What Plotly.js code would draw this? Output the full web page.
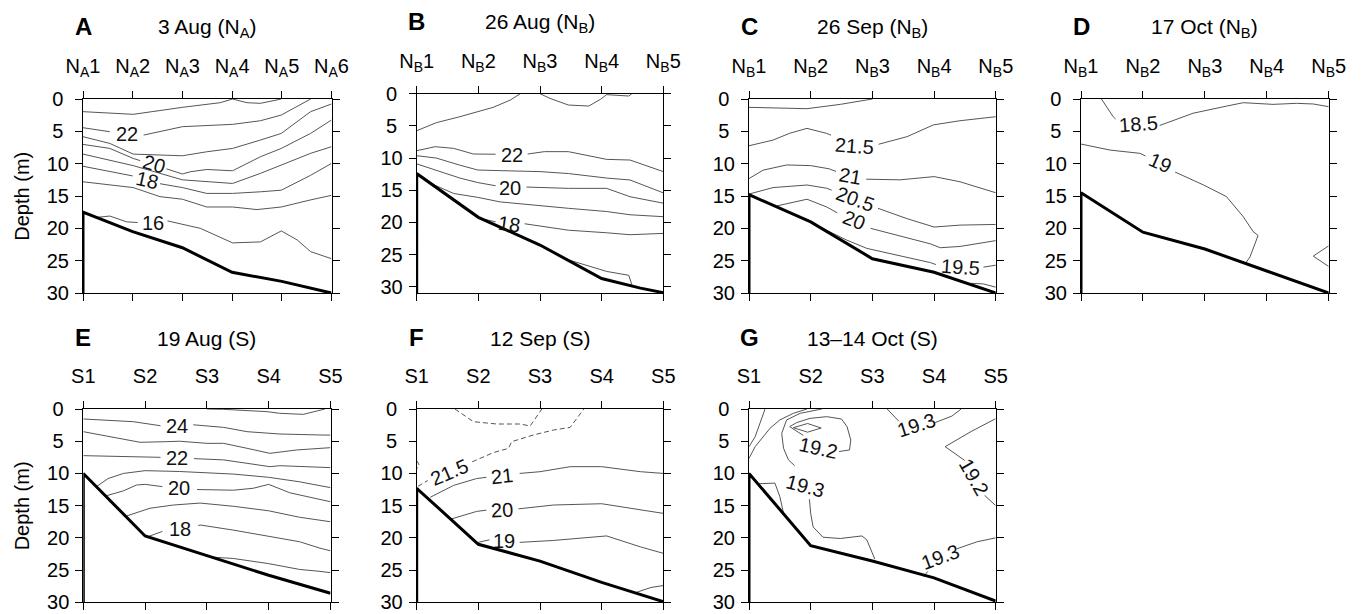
<!DOCTYPE html>
<html>
<head>
<meta charset="utf-8">
<script src="https://cdn.plot.ly/plotly-3.0.1.min.js"></script>
<style>html,body{margin:0;padding:0;background:#fff}#chart{width:1362px;height:614px}</style>
</head>
<body>
<div id="chart"></div>
<script>
// ---------------- DATA ----------------
// x = station index along transect, y = depth (m)
const A_stations = ['N<sub>A</sub>1','N<sub>A</sub>2','N<sub>A</sub>3','N<sub>A</sub>4','N<sub>A</sub>5','N<sub>A</sub>6'];
const B_stations = ['N<sub>B</sub>1','N<sub>B</sub>2','N<sub>B</sub>3','N<sub>B</sub>4','N<sub>B</sub>5'];
const S_stations = ['S1','S2','S3','S4','S5'];
const depthTicks = [0,5,10,15,20,25,30];
const depthTickText = ['0\u2008','5\u2008','10','15','20','25','30'];

const titles = ['3 Aug (N<sub>A</sub>)','26 Aug (N<sub>B</sub>)','26 Sep (N<sub>B</sub>)','17 Oct (N<sub>B</sub>)','19 Aug (S)','12 Sep (S)','13\u201314 Oct (S)'];
const letters = ['A','B','C','D','E','F','G'];

// bathymetry (thick line)
const A_bottom = [[1,30],[1,17.5],[2,20.5],[3,23],[4,26.8],[5,28.2],[6,30]];
const B_bottom = [[1,31],[1,12.4],[2,19.2],[3,23.5],[4,28.7],[4.63,30.2],[5,30.9]];
const C_bottom = [[1,30],[1,14.8],[2,19.0],[3,24.7],[4,26.8],[5,30]];
const D_bottom = [[1,30],[1,14.5],[2,20.6],[3,23.2],[4,26.6],[5,30]];
const E_bottom = [[1,30],[1,10],[2,19.7],[3,22.7],[4,25.8],[5,28.6]];
const F_bottom = [[1,30],[1,12.3],[2,21.0],[3,23.6],[4,26.9],[5,29.9]];
const G_bottom = [[1,30],[1,10],[2,21.2],[3,23.6],[4,26.2],[5,29.8]];

// isotherms (null = gap where a label sits)
const A_iso23 = [[1,1.96],[2.01,2.37],[3.0,1.29],[3.76,0.57],[4.01,0],[4.3,0.57],[4.57,0.67],[4.99,0]];
const A_iso22 = [[1,4.44],[1.54,5.06],null,[2.22,5.58],[3.0,4.28],[4.01,3.92],[4.57,3.36],[4.99,2.48],[5.58,0]];
const A_iso21 = [[1,5.83],[1.54,6.87],[2.01,8.52],[3.0,8.78],[3.49,8.16],[4.01,7.64],[4.57,6.35],[4.99,5.32],[5.58,1.96],[6.0,0.77]];
const A_iso20 = [[1,7.02],[1.54,7.64],[2.01,9.19],[2.15,9.53],null,[2.68,10.8],[3.0,11.6],[3.16,11.25],[3.49,10.9],[4.01,11.1],[4.57,8.93],[4.99,7.64],[5.58,5.32],[6.0,3.25]];
const A_iso19 = [[1,8.52],[1.54,9.45],[2.01,10.3],[3.0,12.5],[3.49,12.8],[4.01,13.06],[4.57,11.5],[4.99,10.2],[5.58,8.4],[6.0,7.38]];
const A_iso18 = [[1,10.4],[1.54,11.25],[2.0,11.9],null,[2.55,13.1],[3.0,13.7],[3.49,14.6],[4.01,14.6],[4.57,14.35],[4.99,14.1],[5.58,11.8],[6.0,9.96]];
const A_iso17 = [[1,12.8],[2.01,13.7],[2.55,15.1],[3.0,15.5],[3.49,16.7],[4.01,16.7],[4.5,17.1],[4.99,16.7],[5.58,15.6],[6.0,14.9]];
const A_iso16 = [[1.28,18.3],[1.54,18.1],[1.88,19.0],[2.1,19.1],null,[2.7,18.85],[3.36,20.0],[4.01,22.25],[4.57,22.1],[4.99,20.4],[5.31,21.8],[5.58,23.6],[6.0,24.7]];
const A_labels = [['22',1.88,5.45],['20',2.42,10.1],['18',2.28,12.6],['16',2.40,19.1]];
const A_labelAngle = [0,17,13,0];

const B_isoTop = [[1,5.75],[1.32,4.5],[1.70,3.57],[1.99,2.85],[2.24,2.12],[2.52,0.98],[2.68,0]];
const B_isoTop2 = [[3.0,0],[3.16,0.72],[3.46,1.76],[3.79,1.92],[3.98,0.88],[4.08,0.15],[4.44,0.36],[4.49,0]];
const B_iso22 = [[1,8.85],[1.30,8.23],[1.60,8.49],[1.92,9.37],[2.28,9.4],null,[2.8,9.37],[3.07,9.0],[3.46,9.0],[3.71,9.5],[4.08,10.2],[4.46,10.3],[5.0,12.1]];
const B_iso21 = [[1,9.63],[1.32,10.0],[1.70,11.1],[1.99,11.85],[2.35,11.95],[3.0,12.1],[3.46,12.4],[4.08,13.1],[4.46,13.4],[5.0,15.4]];
const B_iso20 = [[1,10.9],[1.32,11.85],[1.70,13.1],[1.99,13.8],[2.28,14.3],null,[2.78,14.5],[3.46,14.7],[4.08,14.7],[4.46,16.0],[5.0,17.0]];
const B_iso19 = [[1.22,13.9],[1.60,15.5],[1.99,16.1],[2.35,16.8],[3.46,17.8],[4.08,18.3],[4.46,18.8],[5.0,19.1]];
const B_iso18 = [[2.05,19.4],[2.28,19.9],null,[2.75,20.2],[3.46,21.2],[4.08,21.6],[4.46,21.9],[5.0,21.7]];
const B_iso17 = [[3.46,25.8],[4.08,27.6],[4.44,28.2],[4.49,29.7]];
const B_labels = [['22',2.54,9.5],['20',2.52,14.6],['18',2.50,20.3]];
const B_labelAngle = [0,0,8];

const C_iso22 = [[1,1.29],[1.39,1.34],[1.94,1.5],[2.48,0.83],[3.0,0]];
const C_iso215 = [[1,7.23],[1.39,6.35],[1.66,5.3],[1.94,4.54],[2.26,5.32],[2.33,5.6],null,[3.1,7.0],[3.56,5.83],[3.99,4.0],[4.42,3.36],[5.0,2.74]];
const C_iso21 = [[1,12.3],[1.23,11.0],[1.61,10.2],[2.0,10.3],[2.3,10.8],[2.41,11.2],null,[2.9,12.4],[3.45,12.5],[4.0,12.0],[4.42,12.8],[5.0,14.5]];
const C_iso205 = [[1,14.7],[1.39,13.7],[1.94,13.3],[2.26,13.8],[2.34,14.1],null,[3.09,16.9],[3.56,18.5],[4.0,19.8],[4.42,19.5],[5.0,19.4]];
const C_iso20 = [[1.42,16.6],[1.94,15.5],[2.26,16.7],[2.43,17.6],null,[2.97,20.0],[3.45,21.2],[3.94,22.4],[4.1,23.0],[4.42,22.8],[5.0,21.9]];
const C_iso195 = [[1.85,18.4],[2.26,20.3],[2.58,21.8],[2.91,23.1],[3.45,24.2],[3.94,25.3],[4.03,25.6],null,[4.8,26.0],[5.0,25.7]];
const C_iso19 = [[4.6,28.5],[4.8,28.6],[5.0,29.1]];
const C_labels = [['21.5',2.71,7.2],['21',2.64,11.9],['20.5',2.72,15.4],['20',2.70,18.7],['19.5',4.42,26.0]];
const C_labelAngle = [4,10,20,22,4];

const D_iso185 = [[1.33,0],[1.52,2.74],[1.56,3.1],null,[2.27,4.1],[2.81,2.2],[3.35,1.1],[3.62,0.57],[4.1,0.83],[4.48,0.67],[4.75,0.77],[5.0,1.19]];
const D_iso19 = [[1,6.97],[1.47,7.9],[1.95,8.4],[2.04,8.8],null,[2.52,11.3],[2.98,13.3],[3.35,15.1],[3.62,18.2],[3.78,20.5],[3.86,21.1],[3.73,24.4],[3.65,25.5]];
const D_iso19b = [[5.0,22.7],[4.75,24.3],[5.0,25.9]];
const D_labels = [['18.5',1.93,3.8],['19',2.28,9.96]];
const D_labelAngle = [-4,24];

const E_iso25 = [[3.0,0],[3.27,0.05],[3.97,0.41],[4.18,0.67],[4.56,0.83],[4.83,0.15],[4.91,0]];
const E_iso24 = [[1,1.55],[1.81,1.97],[2.25,2.6],null,[2.78,2.45],[3.27,2.85],[3.65,3.52],[3.97,3.78],[4.18,3.88],[4.83,4.03],[5.0,4.05]];
const E_iso23 = [[1,3.52],[1.43,4.3],[1.92,5.17],[2.35,5.07],[2.56,5.0],[3.0,5.33],[3.27,5.33],[3.65,6.1],[4.02,6.88],[4.45,6.36],[4.83,6.1],[5.0,6.0]];
const E_iso22 = [[1,7.24],[1.43,7.3],[2.0,7.4],[2.25,7.5],null,[2.79,7.7],[3.27,7.9],[3.65,8.43],[4.02,8.95],[4.18,8.8],[4.83,8.95],[5.0,9.1]];
const E_iso21 = [[1.22,12.0],[1.4,10.8],[1.65,10.0],[2.0,9.57],[2.56,9.7],[2.89,9.83],[3.43,10.1],[4.0,10.6],[4.5,11.3],[4.83,11.9],[5.0,12.2]];
const E_iso20 = [[1.36,13.5],[1.65,12.7],[1.86,11.8],[2.0,11.7],[2.28,12.05],null,[2.84,12.5],[3.43,12.6],[3.75,12.3],[4.0,11.7],[4.34,13.0],[4.83,14.1],[5.0,14.4]];
const E_iso19 = [[1.7,16.6],[2.08,15.4],[2.46,14.9],[2.89,14.6],[3.43,15.1],[4.0,15.8],[4.5,16.8],[4.83,17.3],[5.0,17.5]];
const E_iso18 = [[2.05,19.8],[2.28,19.0],null,[2.86,18.1],[2.89,18.0],[3.43,18.8],[4.0,19.8],[4.5,20.6],[4.83,21.6],[5.0,22.0]];
const E_iso17 = [[3.1,23.0],[3.43,23.2],[4.0,24.0],[4.5,24.9],[4.83,25.2],[5.0,25.4]];
const E_labels = [['24',2.51,2.6],['22',2.52,7.66],['20',2.55,12.3],['18',2.56,18.7]];
const E_labelAngle = [0,0,0,0];

const F_iso215a = [[1.62,0],[1.92,1.97],[2.30,2.33],[2.68,2.33],[2.84,2.64],[3.03,0]];
const F_iso215b = [[1.02,12.0],[1.18,11.1],null,[1.9,8.2],[2.24,6.78],[2.49,6.1],[2.54,5.07],[2.89,4.04],[3.22,3.26],[3.49,2.85],[3.71,0]];
const F_iso215c = [[1.0,8.0],[1.04,8.7],[1.0,9.3]];
const F_iso21 = [[1.22,13.7],[1.60,11.85],[1.97,10.8],[2.13,10.6],null,[2.67,10.0],[3.0,9.73],[3.49,8.95],[4.0,8.95],[4.63,9.73],[5.0,10.0]];
const F_iso20 = [[1.55,17.1],[1.97,15.9],[2.13,15.7],null,[2.65,15.5],[3.22,14.9],[4.0,14.7],[4.63,15.6],[5.0,16.2]];
const F_iso19 = [[1.95,20.8],[2.18,20.3],null,[2.67,20.7],[3.22,20.4],[4.08,19.7],[4.63,21.4],[5.0,22.4]];
const F_iso18 = [[4.55,28.5],[4.8,27.7],[5.0,27.4]];
const F_labels = [['21.5',1.54,9.8],['21',2.39,10.4],['20',2.38,15.7],['19',2.41,20.5]];
const F_labelAngle = [-23,-6,-3,0];

const G_iso193a = [[1.26,0],[1.18,2.2],[1.1,4.3],[1.0,5.85]];
const G_iso193b = [[1.0,7.66],[1.1,5.85],[1.34,3.0],[1.5,1.7],[1.72,0.67],[1.94,0]];
const G_iso193c = [[2.18,0],[1.83,0.67],[1.61,1.7],[1.53,3.78],[1.56,6.1],[1.64,7.9],[1.74,8.8],null,[1.98,14.0],[2.0,16.2],[2.04,18.3],[2.2,19.9],[2.48,20.1],[2.83,19.7],[2.91,20.3],[3.04,23.3]];
const G_iso192a = [[2.46,6.6],[2.63,6.36],[2.65,4.8],[2.59,2.74],[2.5,1.55],[2.26,1.19],[1.99,1.45],[1.77,2.12],[1.66,2.74],[1.8,3.6],[1.88,4.1]];
const G_iso191 = [[1.72,2.9],[1.95,2.25],[2.17,2.95],[1.95,3.6],[1.72,2.9]];
const G_iso193d = [[1.15,11.6],[1.42,11.5],[1.5,13.6],[1.56,16.2]];
const G_iso193e = [[3.24,0],[3.38,1.45],[3.43,1.9],null,[4.02,2.1],[4.29,1.1],[4.44,0]];
const G_iso192b = [[5.0,1.5],[4.6,3.5],[4.18,5.85],[4.45,7.6],[4.5,8.0],null,[4.82,13.4],[5.0,15.0]];
const G_iso193f = [[3.83,26.0],[3.9,25.2],null,[4.37,21.7],[4.7,20.6],[5.0,20.0]];
const G_labels = [['19.3',1.91,11.9],['19.2',2.12,6.0],['19.3',3.72,2.5],['19.2',4.65,10.5],['19.3',4.1,23.0]];
const G_labelAngle = [15,12,-18,60,-20];

// ---------------- PANEL SETUP (layout / style) ----------------
const panels = [
  {stations:A_stations, bottom:A_bottom, lines:[A_iso23,A_iso22,A_iso21,A_iso20,A_iso19,A_iso18,A_iso17,A_iso16], dashed:[], labels:A_labels, angles:A_labelAngle, px:[83,331.5,99,293], ymax:30, ytitle:true},
  {stations:B_stations, bottom:B_bottom, lines:[B_isoTop,B_isoTop2,B_iso22,B_iso21,B_iso20,B_iso19,B_iso18,B_iso17], dashed:[], labels:B_labels, angles:B_labelAngle, px:[416.7,663.3,93.7,293.3], ymax:31},
  {stations:B_stations, bottom:C_bottom, lines:[C_iso22,C_iso215,C_iso21,C_iso205,C_iso20,C_iso195,C_iso19], dashed:[], labels:C_labels, angles:C_labelAngle, px:[749,995.8,99,293], ymax:30},
  {stations:B_stations, bottom:D_bottom, lines:[D_iso185,D_iso19,D_iso19b], dashed:[], labels:D_labels, angles:D_labelAngle, px:[1081,1328.7,99,293], ymax:30},
  {stations:S_stations, bottom:E_bottom, lines:[E_iso25,E_iso24,E_iso23,E_iso22,E_iso21,E_iso20,E_iso19,E_iso18,E_iso17], dashed:[], labels:E_labels, angles:E_labelAngle, px:[83.3,330.5,409,602.3], ymax:30, ytitle:true},
  {stations:S_stations, bottom:F_bottom, lines:[F_iso21,F_iso20,F_iso19,F_iso18], dashed:[F_iso215a,F_iso215b,F_iso215c], labels:F_labels, angles:F_labelAngle, px:[416.7,663.3,409,602.3], ymax:30},
  {stations:S_stations, bottom:G_bottom, lines:[G_iso193a,G_iso193b,G_iso193c,G_iso192a,G_iso191,G_iso193d,G_iso193e,G_iso192b,G_iso193f], dashed:[], labels:G_labels, angles:G_labelAngle, px:[749,995.7,409,602.3], ymax:30}
];

const W = 1362, H = 614;
const FONT = '"Liberation Sans", Arial, Helvetica, sans-serif';
const traces = [];
const layout = {
  width: W, height: H, margin:{l:0,r:0,t:0,b:0},
  paper_bgcolor:'#fff', plot_bgcolor:'rgba(0,0,0,0)', showlegend:false,
  font:{family:FONT, color:'#000', size:19},
  annotations:[]
};

function toXY(pts){
  const x=[], y=[];
  pts.forEach(p=>{ if(p===null){x.push(null);y.push(null);} else {x.push(p[0]);y.push(p[1]);} });
  return {x,y};
}

panels.forEach((p,i)=>{
  const n = i+1;
  const xa = n===1?'x':'x'+n, ya = n===1?'y':'y'+n;
  const xk = n===1?'xaxis':'xaxis'+n, yk = n===1?'yaxis':'yaxis'+n;
  const [L,R,T,B] = p.px;
  const ticks = p.stations.map((s,k)=>k+1);
  layout[xk] = {
    domain:[L/W, R/W], anchor:ya, range:[1, p.stations.length], side:'top',
    tickmode:'array', tickvals:ticks, ticktext:p.stations,
    ticks:'outside', ticklen:7, tickwidth:1, tickcolor:'#000',
    showline:true, linecolor:'#000', linewidth:1, mirror:'ticks',
    showgrid:false, zeroline:false, fixedrange:true,
    tickfont:{family:FONT, size:20, color:'#000'}, ticklabelstandoff:10
  };
  layout[yk] = {
    domain:[1-B/H, 1-T/H], anchor:xa, range:[p.ymax, 0],
    tickmode:'array', tickvals:depthTicks, ticktext:depthTickText,
    ticks:'outside', ticklen:7, tickwidth:1, tickcolor:'#000',
    showline:true, linecolor:'#000', linewidth:1, mirror:'ticks',
    showgrid:false, zeroline:false, fixedrange:true,
    tickfont:{family:FONT, size:20, color:'#000'}, ticklabelstandoff:2
  };
  p.lines.forEach(l=>{
    const d = toXY(l);
    traces.push({type:'scatter', mode:'lines', x:d.x, y:d.y, xaxis:xa, yaxis:ya,
      line:{color:'#555', width:1}, connectgaps:false, hoverinfo:'skip'});
  });
  p.dashed.forEach(l=>{
    const d = toXY(l);
    traces.push({type:'scatter', mode:'lines', x:d.x, y:d.y, xaxis:xa, yaxis:ya,
      line:{color:'#555', width:1, dash:'5px,3px'}, connectgaps:false, hoverinfo:'skip'});
  });
  const bt = toXY(p.bottom);
  traces.push({type:'scatter', mode:'lines', x:bt.x, y:bt.y, xaxis:xa, yaxis:ya,
    line:{color:'#000', width:3}, cliponaxis:false, hoverinfo:'skip'});
  p.labels.forEach((lb,k)=>{
    layout.annotations.push({xref:xa, yref:ya, x:lb[1], y:lb[2], text:lb[0], showarrow:false,
      textangle:p.angles[k], font:{family:FONT, size:20, color:'#111'}, xanchor:'center', yanchor:'middle'});
  });
  // panel title & letter
  layout.annotations.push({xref:xa+' domain', yref:ya+' domain', x:0.5, y:1, yshift:71, text:titles[i],
    showarrow:false, xanchor:'center', yanchor:'middle', font:{family:FONT, size:21, color:'#000'}});
  layout.annotations.push({xref:xa+' domain', yref:ya+' domain', x:0, y:1, yshift:72, text:'<b>'+letters[i]+'</b>',
    showarrow:false, xanchor:'center', yanchor:'middle', font:{family:FONT, size:24, color:'#000'}});
  if(p.ytitle){
    layout.annotations.push({xref:'paper', yref:ya+' domain', x:21.7/W, y:0.5, text:'Depth (m)', textangle:-90,
      showarrow:false, xanchor:'center', yanchor:'middle', font:{family:FONT, size:20, color:'#000'}});
  }
});

Plotly.newPlot('chart', traces, layout, {staticPlot:true, displayModeBar:false});
</script>
</body>
</html>
